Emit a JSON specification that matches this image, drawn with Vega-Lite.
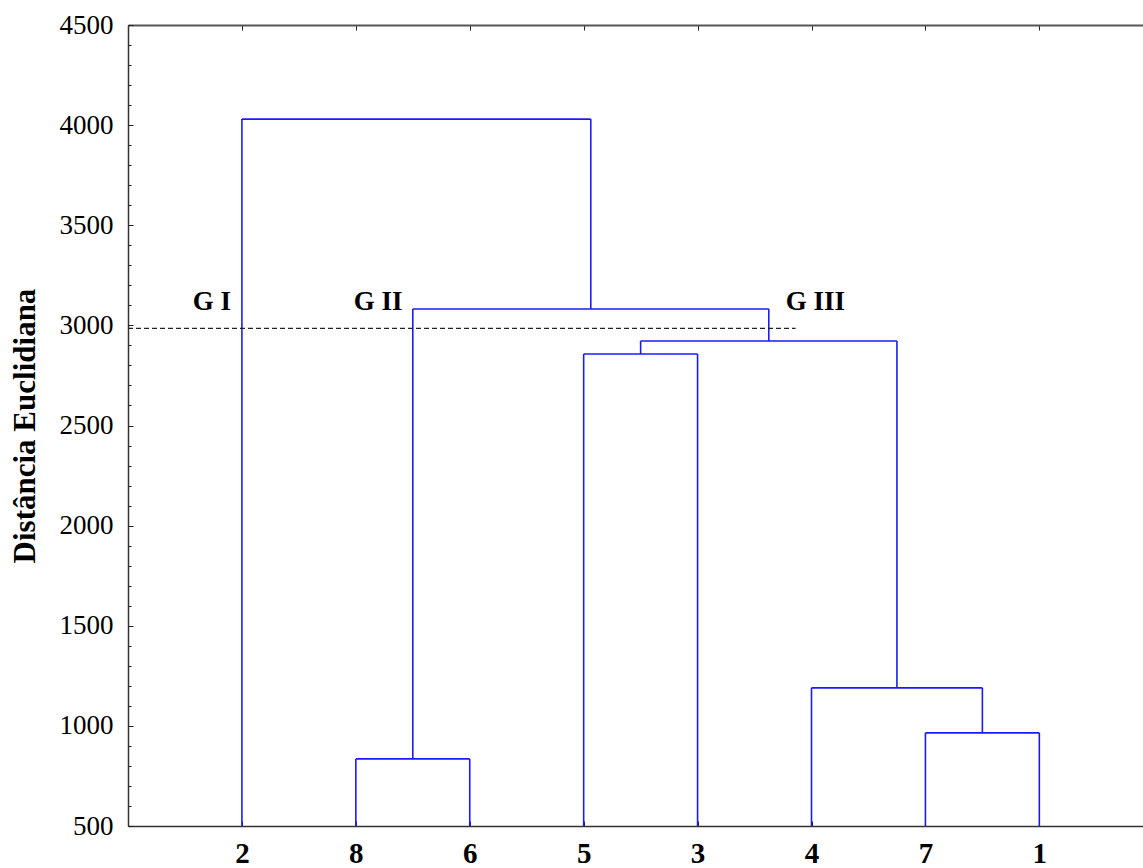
{
  "$schema": "https://vega.github.io/schema/vega-lite/v6.json",
  "width": 1015,
  "height": 801,
  "autosize": {"type": "none"},
  "padding": {"left": 128, "top": 25, "right": 0, "bottom": 42},
  "background": "white",
  "config": {
    "view": {"stroke": null},
    "font": "Liberation Serif",
    "axis": {"grid": false, "domainColor": "#333333", "domainWidth": 1.5, "tickColor": "#222222", "labelColor": "black", "titleColor": "black", "labelFont": "Liberation Serif", "titleFont": "Liberation Serif"}
  },
  "datasets": {
    "segs": [
      {"x": 1, "x2": 1, "y": 500, "y2": 4030},
      {"x": 2, "x2": 2, "y": 500, "y2": 835},
      {"x": 3, "x2": 3, "y": 500, "y2": 835},
      {"x": 2, "x2": 3, "y": 835, "y2": 835},
      {"x": 2.5, "x2": 2.5, "y": 835, "y2": 3082},
      {"x": 4, "x2": 4, "y": 500, "y2": 2857},
      {"x": 5, "x2": 5, "y": 500, "y2": 2857},
      {"x": 4, "x2": 5, "y": 2857, "y2": 2857},
      {"x": 4.5, "x2": 4.5, "y": 2857, "y2": 2922},
      {"x": 6, "x2": 6, "y": 500, "y2": 1190},
      {"x": 7, "x2": 7, "y": 500, "y2": 965},
      {"x": 8, "x2": 8, "y": 500, "y2": 965},
      {"x": 7, "x2": 8, "y": 965, "y2": 965},
      {"x": 7.5, "x2": 7.5, "y": 965, "y2": 1190},
      {"x": 6, "x2": 7.5, "y": 1190, "y2": 1190},
      {"x": 6.75, "x2": 6.75, "y": 1190, "y2": 2922},
      {"x": 4.5, "x2": 6.75, "y": 2922, "y2": 2922},
      {"x": 5.625, "x2": 5.625, "y": 2922, "y2": 3082},
      {"x": 2.5, "x2": 5.625, "y": 3082, "y2": 3082},
      {"x": 4.0625, "x2": 4.0625, "y": 3082, "y2": 4030},
      {"x": 1, "x2": 4.0625, "y": 4030, "y2": 4030}
    ],
    "cut": [{"x": 0, "x2": 5.86, "y": 2985, "y2": 2985}],
    "groups": [
      {"x": 0.737, "y": 3117, "label": "G I"},
      {"x": 2.195, "y": 3117, "label": "G II"},
      {"x": 6.035, "y": 3117, "label": "G III"}
    ]
  },
  "resolve": {"axis": {"x": "independent", "y": "independent"}},
  "layer": [
    {
      "data": {"name": "segs"},
      "mark": {"type": "rule", "color": "#1a1aff", "strokeWidth": 1.6},
      "encoding": {
        "x": {"field": "x", "type": "quantitative",
          "scale": {"domain": [0, 8.91], "nice": false, "zero": false},
          "axis": {"orient": "bottom", "values": [1, 2, 3, 4, 5, 6, 7, 8], "labelExpr": "['','2','8','6','5','3','4','7','1'][datum.value]", "tickSize": -5, "labelPadding": 18, "labelFontSize": 29, "labelFontWeight": "bold", "title": null, "labelBaseline": "top"}},
        "x2": {"field": "x2"},
        "y": {"field": "y", "type": "quantitative",
          "scale": {"domain": [500, 4500], "nice": false, "zero": false},
          "axis": {"orient": "left", "values": [500, 1000, 1500, 2000, 2500, 3000, 3500, 4000, 4500], "format": "d", "tickSize": -5, "labelPadding": 20, "labelFontSize": 27, "title": "Distância Euclidiana", "titleFontSize": 31, "titleFontWeight": "bold", "titlePadding": 18}},
        "y2": {"field": "y2"}
      }
    },
    {
      "data": {"name": "cut"},
      "mark": {"type": "rule", "color": "#222222", "strokeWidth": 1.2, "strokeDash": [5, 3]},
      "encoding": {
        "x": {"field": "x", "type": "quantitative",
          "axis": {"orient": "top", "values": [1, 2, 3, 4, 5, 6, 7, 8], "labels": false, "tickSize": -5, "title": null, "domainWidth": 2, "domainColor": "#555555"}},
        "x2": {"field": "x2"},
        "y": {"field": "y", "type": "quantitative",
          "axis": {"orient": "left", "values": [500, 600, 700, 800, 900, 1000, 1100, 1200, 1300, 1400, 1500, 1600, 1700, 1800, 1900, 2000, 2100, 2200, 2300, 2400, 2500, 2600, 2700, 2800, 2900, 3000, 3100, 3200, 3300, 3400, 3500, 3600, 3700, 3800, 3900, 4000, 4100, 4200, 4300, 4400, 4500], "labels": false, "tickSize": -3, "title": null, "domain": false}},
        "y2": {"field": "y2"}
      }
    },
    {
      "data": {"name": "groups"},
      "mark": {"type": "text", "font": "Liberation Serif", "fontWeight": "bold", "fontSize": 27, "color": "black", "align": "center", "baseline": "middle"},
      "encoding": {
        "x": {"field": "x", "type": "quantitative", "axis": null},
        "y": {"field": "y", "type": "quantitative", "axis": null},
        "text": {"field": "label"}
      }
    }
  ]
}
